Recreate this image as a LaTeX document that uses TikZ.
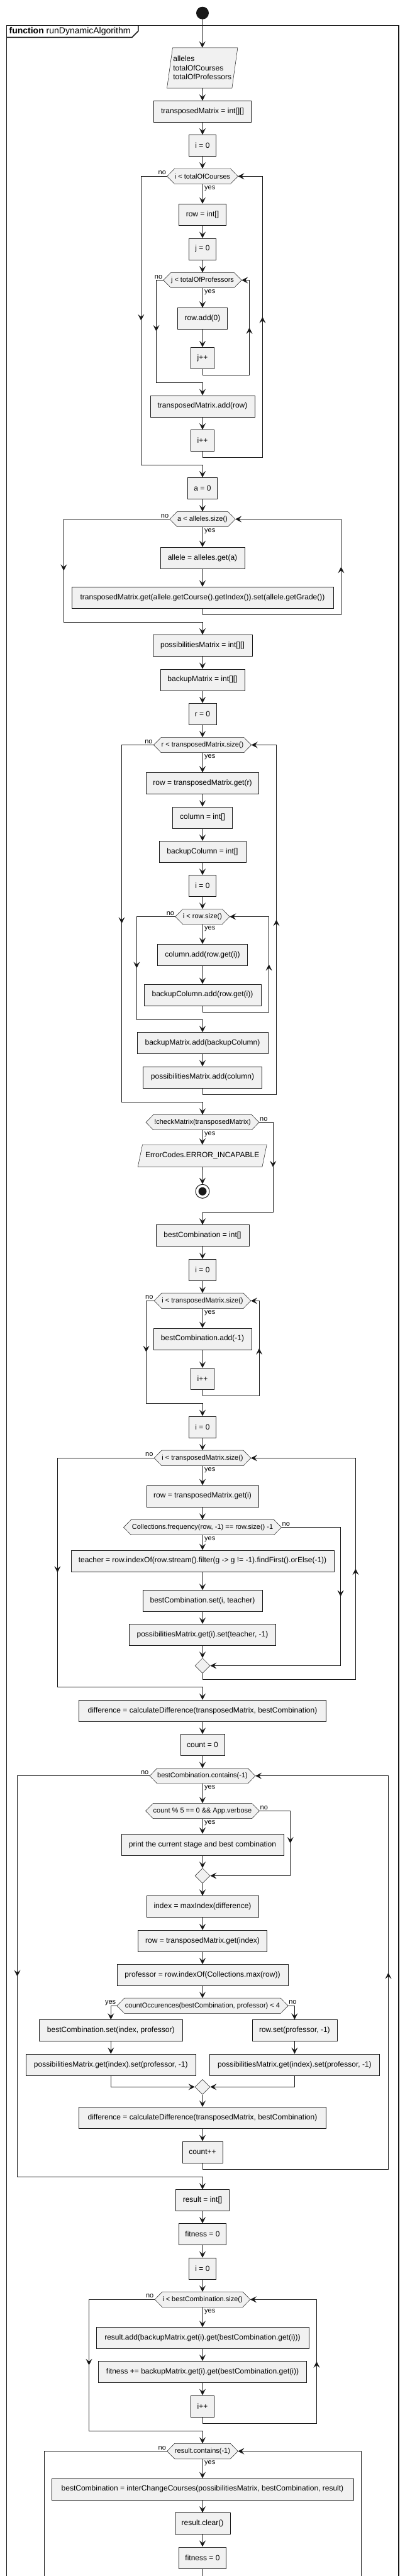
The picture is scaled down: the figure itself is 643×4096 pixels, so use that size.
\documentclass[tikz,border=0pt]{standalone}
\usepackage{fontspec}
\setmainfont{Liberation Sans}
\usetikzlibrary{arrows.meta,shapes.geometric,calc}
\pgfdeclarelayer{bg}
\pgfsetlayers{bg,main}
\definecolor{ln}{HTML}{181818}
\definecolor{bx}{HTML}{F1F1F1}
\tikzset{
 box/.style={rectangle, draw=ln, fill=bx, line width=0.5pt, minimum height=34pt, inner xsep=2pt, inner ysep=0pt, font=\fontsize{12}{14}\selectfont, text=black},
 hexin/.style={rectangle, inner xsep=0pt, inner ysep=0pt, minimum height=24pt, font=\fontsize{11}{13}\selectfont, text=black},
 parain/.style={rectangle, inner sep=0pt, align=left, font=\fontsize{12}{14.5}\selectfont, text=black},
 hexline/.style={draw=ln, fill=bx, line width=0.5pt},
 flow/.style={draw=ln, line width=1pt, -{Stealth[length=10pt,width=10pt,inset=4pt]}},
 wire/.style={draw=ln, line width=1pt},
 lbl/.style={inner sep=0pt, font=\fontsize{11}{13}\selectfont, text=black},
 merge/.style={diamond, draw=ln, fill=bx, line width=0.5pt, minimum width=24pt, minimum height=24pt, inner sep=0pt},
 framestyle/.style={draw=ln, line width=1.5pt},
}
\newcommand{\hexnode}[5]{%
 \node[hexin, minimum width=#4] (#1) at (#2,#3) {#5};
 \coordinate (#1W) at ([xshift=-12pt]#1.west);
 \coordinate (#1E) at ([xshift=12pt]#1.east);
 \begin{pgfonlayer}{bg}
 \path[hexline] (#1W) -- (#1.north west) -- (#1.north east) -- (#1E) -- (#1.south east) -- (#1.south west) -- cycle;
 \end{pgfonlayer}}
\newcommand{\parabox}[7]{%
 \node[parain, minimum width=#4, minimum height=#5] (#1) at (#2,#3) {#7};
 \begin{pgfonlayer}{bg}
 \path[hexline] ([xshift=#6]#1.north west) -- ([xshift=#6]#1.north east) -- ([xshift=-#6]#1.south east) -- ([xshift=-#6]#1.south west) -- cycle;
 \end{pgfonlayer}}
\newcommand{\yesb}[1]{\node[lbl, anchor=base west] (#1yes) at ([shift={(3,8.7)}]#1.south) {yes};}
\newcommand{\lblL}[2]{\node[lbl, anchor=base east] (#1lab) at ([shift={(-1.5,-2.5)}]#1W) {#2};}
\newcommand{\lblR}[2]{\node[lbl, anchor=base west] (#1lab) at ([shift={(1,-2.5)}]#1E) {#2};}
\newcommand{\arrdown}[2]{\draw[flow] (#1,#2-8) -- (#1,#2);}
\newcommand{\arrup}[2]{\draw[flow] (#1,#2+8) -- (#1,#2);}
\begin{document}
\begin{tikzpicture}[x=1pt, y=-1pt]
\begin{pgfonlayer}{bg}\fill[white] (0,0) rectangle (643,4096);\end{pgfonlayer}
\useasboundingbox (0,0) rectangle (643,4096);
\clip (0,0) rectangle (643,4096);

% frame
\draw[framestyle] (10.7,4120) -- (10.7,40.7) -- (634,40.7) -- (634,4120);
\draw[framestyle] (10.7,59.3) -- (210,59.3) -- (219.8,49.5) -- (219.8,40.7);
\node[anchor=base west, inner sep=0pt, font=\fontsize{14}{16}\selectfont] (title) at (14.4,53.5) {\textbf{function} runDynamicAlgorithm};

% nodes
\node[circle, fill=ln, minimum size=20pt, inner sep=0pt] (start) at (322,20.7) {};
\parabox{params}{321.7}{108}{103pt}{64pt}{4.5pt}{alleles\\totalOfCourses\\totalOfProfessors}
\node[box, minimum width=154.6pt] (tm0) at (322,177.3) {transposedMatrix = int[][]};
\node[box, minimum width=43pt] (i0a) at (322,231.3) {i = 0};
\hexnode{h1}{322}{280.3}{86pt}{i < totalOfCourses}
\node[box, minimum width=75.1pt] (row0) at (322,341.2) {row = int[]};
\node[box, minimum width=43pt] (j0) at (322,395.8) {j = 0};
\hexnode{h2}{322}{445.5}{99pt}{j < totalOfProfessors}
\node[box, minimum width=78.7pt] (rowadd) at (322,506.5) {row.add(0)};
\node[box, minimum width=37pt] (jpp) at (322,569.3) {j++};
\node[box, minimum width=166pt] (tmadd) at (322,645.8) {transposedMatrix.add(row)};
\node[box, minimum width=37pt] (ipp1) at (322,700.3) {i++};
\node[box, minimum width=47pt] (a0) at (322,776.3) {a = 0};
\hexnode{h3}{322}{825.5}{77pt}{a < alleles.size()}
\node[box, minimum width=133.7pt] (allele) at (322,887) {allele = alleles.get(a)};
\node[box, minimum width=416.5pt] (tmset) at (322,950) {transposedMatrix.get(allele.getCourse().getIndex()).set(allele.getGrade())};
\node[box, minimum width=158pt] (pm0) at (322,1026.3) {possibilitiesMatrix = int[][]};
\node[box, minimum width=133.7pt] (bm0) at (322,1080.8) {backupMatrix = int[][]};
\node[box, minimum width=44pt] (r0) at (322,1135.3) {r = 0};
\hexnode{h4}{322}{1184.5}{131pt}{r < transposedMatrix.size()}
\node[box, minimum width=178.7pt] (rowget) at (322,1245.5) {row = transposedMatrix.get(r)};
\node[box, minimum width=94.7pt] (col0) at (322,1299.8) {column = int[]};
\node[box, minimum width=137.7pt] (bcol0) at (322,1354.3) {backupColumn = int[]};
\node[box, minimum width=43pt] (i0b) at (322,1408.5) {i = 0};
\hexnode{h5}{322}{1457.5}{62pt}{i < row.size()}
\node[box, minimum width=142.7pt] (coladd) at (322,1518.3) {column.add(row.get(i))};
\node[box, minimum width=186pt] (bcoladd) at (322,1581.8) {backupColumn.add(row.get(i))};
\node[box, minimum width=208pt] (bmadd) at (322,1658.5) {backupMatrix.add(backupColumn)};
\node[box, minimum width=188.6pt] (pmadd) at (322,1712.8) {possibilitiesMatrix.add(column)};
\hexnode{h6}{322}{1784.5}{155.6pt}{!checkMatrix(transposedMatrix)}
\parabox{err}{321.7}{1837.8}{197.3pt}{35pt}{3.65pt}{ErrorCodes.ERROR\_INCAPABLE}
\node[circle, draw=ln, line width=1pt, fill=white, minimum size=22pt, inner sep=0pt] (stop) at (322,1894.3) {};
\node[circle, fill=ln, minimum size=13pt, inner sep=0pt] (stopdot) at (stop.center) {};
\node[box, minimum width=148pt] (bc0) at (322,1964.5) {bestCombination = int[]};
\node[box, minimum width=43pt] (i0c) at (322,2019.2) {i = 0};
\hexnode{h7}{322}{2068.3}{129.4pt}{i < transposedMatrix.size()}
\node[box, minimum width=156.2pt] (bcadd) at (322,2128.8) {bestCombination.add(-1)};
\node[box, minimum width=37pt] (ipp2) at (322,2192.3) {i++};
\node[box, minimum width=43pt] (i0d) at (322,2268.8) {i = 0};
\hexnode{h8}{322}{2318.3}{129.4pt}{i < transposedMatrix.size()}
\node[box, minimum width=178pt] (rowgeti) at (322,2378.8) {row = transposedMatrix.get(i)};
\hexnode{h9}{322}{2428.5}{226.6pt}{Collections.frequency(row, -1) == row.size() -1}
\node[box, minimum width=417.8pt] (teacher) at (322,2481.8) {teacher = row.indexOf(row.stream().filter(g -> g != -1).findFirst().orElse(-1))};
\node[box, minimum width=189.8pt] (bcset) at (322,2545.5) {bestCombination.set(i, teacher)};
\node[box, minimum width=233.3pt] (pmset) at (322,2599.3) {possibilitiesMatrix.get(i).set(teacher, -1)};
\node[merge] (m1) at (322,2648.5) {};
\node[box, minimum width=393.2pt] (diff1) at (322,2720) {difference = calculateDifference(transposedMatrix, bestCombination)};
\node[box, minimum width=70pt] (cnt0) at (322,2774.5) {count = 0};
\hexnode{h10}{322}{2823.7}{142.5pt}{bestCombination.contains(-1)}
\hexnode{h11}{322}{2879.5}{155pt}{count \% 5 == 0 \&\& App.verbose}
\node[box, minimum width=258pt] (print) at (322,2933) {print the current stage and best combination};
\node[merge] (m2) at (322,2982.5) {};
\node[box, minimum width=178pt] (idx) at (322,3031.5) {index = maxIndex(difference)};
\node[box, minimum width=205pt] (rowidx) at (322,3086.2) {row = transposedMatrix.get(index)};
\node[box, minimum width=271.8pt] (prof) at (322,3140.5) {professor = row.indexOf(Collections.max(row))};
\hexnode{h12}{322}{3189.3}{247.8pt}{countOccurences(bestCombination, professor) < 4}
\node[box, minimum width=227.2pt] (bcsetidx) at (176.3,3228.5) {bestCombination.set(index, professor)};
\node[box, minimum width=135.3pt] (rowset) at (468.4,3228.5) {row.set(professor, -1)};
\node[box, minimum width=270.2pt] (pmsetL) at (176.3,3283) {possibilitiesMatrix.get(index).set(professor, -1)};
\node[box, minimum width=270.2pt] (pmsetR) at (468.4,3283) {possibilitiesMatrix.get(index).set(professor, -1)};
\node[merge] (m3) at (322,3318.3) {};
\node[box, minimum width=393.2pt] (diff2) at (322,3367.3) {difference = calculateDifference(transposedMatrix, bestCombination)};
\node[box, minimum width=64.4pt] (cntpp) at (322,3421.8) {count++};
\node[box, minimum width=85.3pt] (res0) at (322,3498.5) {result = int[]};
\node[box, minimum width=75.1pt] (fit0) at (322,3552.5) {fitness = 0};
\node[box, minimum width=43pt] (i0e) at (322,3607) {i = 0};
\hexnode{h13}{322}{3656.3}{124.9pt}{i < bestCombination.size()}
\node[box, minimum width=338.3pt] (resadd) at (322,3717.5) {result.add(backupMatrix.get(i).get(bestCombination.get(i)))};
\node[box, minimum width=331.3pt] (fitadd) at (322,3771.3) {fitness += backupMatrix.get(i).get(bestCombination.get(i))};
\node[box, minimum width=37pt] (ipp3) at (322,3825.8) {i++};
\hexnode{h14}{322}{3897.5}{88.3pt}{result.contains(-1)}
\node[box, minimum width=480.2pt] (ich) at (322,3957.8) {bestCombination = interChangeCourses(possibilitiesMatrix, bestCombination, result)};
\node[box, minimum width=87.7pt] (rclear) at (322,4012.5) {result.clear()};
\node[box, minimum width=75.1pt] (fit1) at (322,4066.7) {fitness = 0};
\coordinate (endA) at (322,4120);
\coordinate (h14out) at (70.5,4120);
\coordinate (h14in) at (574.4,4120);

% labels
\yesb{h1}\lblL{h1}{no}
\yesb{h2}\lblL{h2}{no}
\yesb{h3}\lblL{h3}{no}
\yesb{h4}\lblL{h4}{no}
\yesb{h5}\lblL{h5}{no}
\yesb{h6}\lblR{h6}{no}
\yesb{h7}\lblL{h7}{no}
\yesb{h8}\lblL{h8}{no}
\yesb{h9}\lblR{h9}{no}
\yesb{h10}\lblL{h10}{no}
\yesb{h11}\lblR{h11}{no}
\lblL{h12}{yes}
\node[lbl, anchor=base west] (h12no) at ([shift={(1,-2.5)}]h12E) {no};
\yesb{h13}\lblL{h13}{no}
\yesb{h14}\lblL{h14}{no}

% straight connectors
\draw[flow] (start.south) -- (params.north);
\draw[flow] (params.south) -- (tm0.north);
\draw[flow] (tm0.south) -- (i0a.north);
\draw[flow] (i0a.south) -- (h1.north);
\draw[flow] (h1.south) -- (row0.north);
\draw[flow] (row0.south) -- (j0.north);
\draw[flow] (j0.south) -- (h2.north);
\draw[flow] (h2.south) -- (rowadd.north);
\draw[flow] (rowadd.south) -- (jpp.north);
\draw[flow] (tmadd.south) -- (ipp1.north);
\draw[flow] (a0.south) -- (h3.north);
\draw[flow] (h3.south) -- (allele.north);
\draw[flow] (allele.south) -- (tmset.north);
\draw[flow] (pm0.south) -- (bm0.north);
\draw[flow] (bm0.south) -- (r0.north);
\draw[flow] (r0.south) -- (h4.north);
\draw[flow] (h4.south) -- (rowget.north);
\draw[flow] (rowget.south) -- (col0.north);
\draw[flow] (col0.south) -- (bcol0.north);
\draw[flow] (bcol0.south) -- (i0b.north);
\draw[flow] (i0b.south) -- (h5.north);
\draw[flow] (h5.south) -- (coladd.north);
\draw[flow] (coladd.south) -- (bcoladd.north);
\draw[flow] (bmadd.south) -- (pmadd.north);
\draw[flow] (h6.south) -- (err.north);
\draw[flow] (err.south) -- (stop.north);
\draw[flow] (bc0.south) -- (i0c.north);
\draw[flow] (i0c.south) -- (h7.north);
\draw[flow] (h7.south) -- (bcadd.north);
\draw[flow] (bcadd.south) -- (ipp2.north);
\draw[flow] (i0d.south) -- (h8.north);
\draw[flow] (h8.south) -- (rowgeti.north);
\draw[flow] (rowgeti.south) -- (h9.north);
\draw[flow] (h9.south) -- (teacher.north);
\draw[flow] (teacher.south) -- (bcset.north);
\draw[flow] (bcset.south) -- (pmset.north);
\draw[flow] (pmset.south) -- (m1.north);
\draw[flow] (diff1.south) -- (cnt0.north);
\draw[flow] (cnt0.south) -- (h10.north);
\draw[flow] (h10.south) -- (h11.north);
\draw[flow] (h11.south) -- (print.north);
\draw[flow] (print.south) -- (m2.north);
\draw[flow] (m2.south) -- (idx.north);
\draw[flow] (idx.south) -- (rowidx.north);
\draw[flow] (rowidx.south) -- (prof.north);
\draw[flow] (prof.south) -- (h12.north);
\draw[flow] (h12W) -| (bcsetidx.north);
\draw[flow] (h12E) -| (rowset.north);
\draw[flow] (bcsetidx.south) -- (pmsetL.north);
\draw[flow] (rowset.south) -- (pmsetR.north);
\draw[flow] (pmsetL.south) |- (m3.west);
\draw[flow] (pmsetR.south) |- (m3.east);
\draw[flow] (m3.south) -- (diff2.north);
\draw[flow] (diff2.south) -- (cntpp.north);
\draw[flow] (res0.south) -- (fit0.north);
\draw[flow] (fit0.south) -- (i0e.north);
\draw[flow] (i0e.south) -- (h13.north);
\draw[flow] (h13.south) -- (resadd.north);
\draw[flow] (resadd.south) -- (fitadd.north);
\draw[flow] (fitadd.south) -- (ipp3.north);
\draw[flow] (h14.south) -- (ich.north);
\draw[flow] (ich.south) -- (rclear.north);
\draw[flow] (rclear.south) -- (fit1.north);
\draw[wire] (fit1.south) -- (endA);

% loops
\draw[flow] (jpp.south) |- (396.5,596.3) |- (h2E);  \arrup{396.5}{520.9}
\draw[flow] (h2W) -| (248.5,608.3) -| (tmadd.north); \arrdown{248.5}{526.9}
\draw[flow] (ipp1.south) |- (417.4,727.3) |- (h1E);  \arrup{417.4}{503.8}
\draw[flow] (h1W) -| (224.3,739.3) -| (a0.north);    \arrdown{224.3}{509.8}
\draw[flow] (tmset.south) |- (542.4,977) |- (h3E);   \arrup{542.4}{901.3}
\draw[flow] (h3W) -| (101.3,989.3) -| (pm0.north);   \arrdown{101.3}{907.4}
\draw[flow] (bcoladd.south) |- (427.6,1609.3) |- (h5E); \arrup{427.6}{1533.4}
\draw[flow] (h5W) -| (217.3,1621.3) -| (bmadd.north);   \arrdown{217.3}{1539.4}
\draw[flow] (pmadd.south) |- (439.5,1740.3) |- (h4E);   \arrup{439.5}{1462.4}
\draw[flow] (h4W) -| (193.5,1752.3) -| (h6.north);      \arrdown{193.5}{1468.4}
\draw[flow] (h6E) -| (434.2,1927.3) -| (bc0.north);     \arrdown{434.2}{1855.9}
\draw[flow] (ipp2.south) |- (412.1,2219.3) |- (h7E);    \arrup{412.1}{2143.8}
\draw[flow] (h7W) -| (232.5,2231.3) -| (i0d.north);     \arrdown{232.5}{2149.8}
\draw[flow] (h9E) -| (541.6,2648.5) -- (m1.east);       \arrdown{541.6}{2538.5}
\draw[flow] (m1.south) |- (565.4,2670) |- (h8E);        \arrup{565.4}{2494.2}
\draw[flow] (h8W) -| (91.4,2682.3) -| (diff1.north);    \arrdown{91.4}{2500.3}
\draw[flow] (h11E) -| (461.7,2982.5) -- (m2.east);      \arrdown{461.7}{2931}
\draw[flow] (cntpp.south) |- (617.5,3449.3) |- (h10E);  \arrup{617.5}{3136.5}
\draw[flow] (h10W) -| (27.5,3461.3) -| (res0.north);    \arrdown{27.5}{3142.5}
\draw[flow] (ipp3.south) |- (503.5,3853.3) |- (h13E);   \arrup{503.5}{3754.8}
\draw[flow] (h13W) -| (141.5,3865.3) -| (h14.north);    \arrdown{141.5}{3760.8}
\draw[wire] (h14W) -| (h14out);
\draw[flow] (h14in) |- (h14E);
\end{tikzpicture}
\end{document}
